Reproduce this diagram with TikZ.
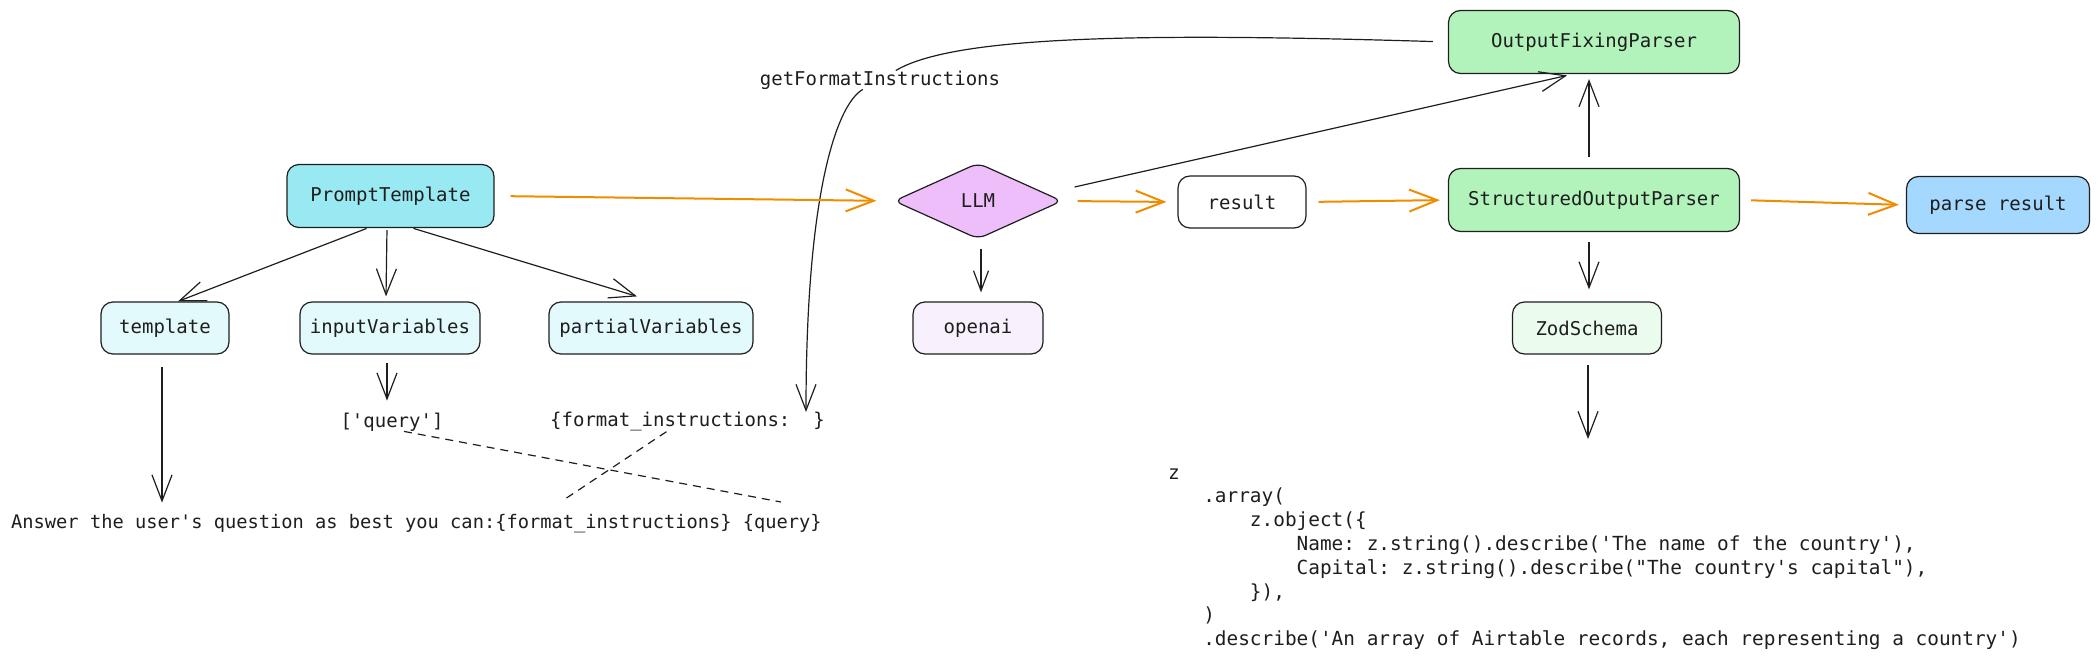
\documentclass[tikz,border=0pt]{standalone}
\usepackage{fontspec}
\setmonofont{DejaVu Sans Mono}
\usetikzlibrary{arrows.meta,shapes.geometric}

% Sangría en anchos de carácter (fuente monoespaciada)
\newcommand{\codeindent}[1]{\hspace*{#1\fontcharwd\font`\x}}

\begin{document}
\begin{tikzpicture}[
    x=1pt, y=-1pt,
    % Estilo para las cajas redondeadas
    caja/.style={
        draw=trazo, line width=1.2pt, rounded corners=12pt,
        inner sep=0pt, text=trazo,
        font=\ttfamily\fontsize{19}{23}\selectfont
    },
    % Estilo para el rombo del modelo
    rombo/.style={
        diamond, draw=trazo, line width=1.2pt, rounded corners=8pt,
        inner sep=0pt, text=trazo,
        font=\ttfamily\fontsize{19}{23}\selectfont
    },
    % Textos sueltos
    texto/.style={inner sep=0pt, text=trazo, font=\ttfamily\fontsize{19}{23}\selectfont},
    codigo/.style={inner sep=0pt, text=trazo, font=\ttfamily\fontsize{19.4}{23.8}\selectfont},
    % Flechas
    flecha/.style={draw=trazo, line width=1.2pt, line join=round,
        -{Straight Barb[length=26pt, width=20pt]}},
    flechacorta/.style={flecha, -{Straight Barb[length=20pt, width=15pt]}},
    naranja/.style={draw=flujo, line width=2pt, line join=round,
        -{Straight Barb[length=28pt, width=22pt]}},
    punteada/.style={draw=trazo, line width=1.2pt, dash pattern=on 8pt off 6pt}
]
    % Configuración de colores
    \definecolor{trazo}{HTML}{1E1E1E}
    \definecolor{flujo}{HTML}{F08C00}
    \definecolor{cianfuerte}{HTML}{99E9F2}
    \definecolor{cianclaro}{HTML}{E3FAFC}
    \definecolor{lila}{HTML}{EEBEFA}
    \definecolor{lilaclaro}{HTML}{F8F0FC}
    \definecolor{verde}{HTML}{B2F2BB}
    \definecolor{verdeclaro}{HTML}{EBFBEE}
    \definecolor{azul}{HTML}{A5D8FF}

    \useasboundingbox (0,0) rectangle (2100,660);

    % Plantilla y sus partes
    \node[caja, fill=cianfuerte, minimum width=207pt, minimum height=63pt] (prompt) at (390.5,196) {PromptTemplate};
    \node[caja, fill=cianclaro, minimum width=128pt, minimum height=52pt] (template) at (165,328) {template};
    \node[caja, fill=cianclaro, minimum width=180pt, minimum height=52pt] (inputs) at (390,328) {inputVariables};
    \node[caja, fill=cianclaro, minimum width=204pt, minimum height=52pt] (partials) at (651,328) {partialVariables};

    \node[texto] (query) at (392,422) {['query']};
    \node[texto, anchor=west] (fmt) at (550,422) {\{format\_instructions:\codeindent{2}\}};
    \node[texto, anchor=base west, font=\ttfamily\fontsize{18.7}{23}\selectfont] (answer) at (11,528)
        {Answer the user's question as best you can:\{format\_instructions\} \{query\}};

    % Modelo y parsers
    \node[rombo, fill=lila, minimum width=168pt, minimum height=76pt] (llm) at (978,201) {LLM};
    \node[caja, fill=lilaclaro, minimum width=130pt, minimum height=52pt] (openai) at (978,328) {openai};
    \node[caja, fill=white, minimum width=128pt, minimum height=52pt] (result) at (1242,202) {result};
    \node[caja, fill=verde, minimum width=291pt, minimum height=63pt] (ofp) at (1594,42) {OutputFixingParser};
    \node[caja, fill=verde, minimum width=291pt, minimum height=63pt] (sop) at (1594,200) {StructuredOutputParser};
    \node[caja, fill=azul, minimum width=183pt, minimum height=57pt] (parse) at (1998,205) {parse result};
    \node[caja, fill=verdeclaro, minimum width=149pt, minimum height=52pt] (zod) at (1587,328) {ZodSchema};

    % Esquema zod, una línea por nodo: {índice / sangría / texto}
    \foreach \k/\sang/\linea in {
        0/0/{z},
        1/3/{.array(},
        2/7/{z.object(\{},
        3/11/{Name: z.string().describe('The name of the country'),},
        4/11/{Capital: z.string().describe("The country's capital"),},
        5/7/{\}),},
        6/3/{)},
        7/3/{.describe('An array of Airtable records, each representing a country')}
    }{
        \node[codigo, anchor=base west] (code\k) at (1168,{479+\k*23.8}) {\codeindent{\sang}\linea};
    }

    % Puntos libres de llegada
    \coordinate (codetop) at (1588,439);
    \coordinate (fmtgap) at (806,412);
    \coordinate (ansquery) at (781,502);
    \coordinate (ansfmt) at (562,501);

    % Flechas negras
    \draw[flecha, shorten <=1pt] ([xshift=-23pt]prompt.south) -- ([xshift=13pt]template.north);
    \draw[flecha, shorten <=2pt] ([xshift=-3.5pt]prompt.south) -- ([xshift=-4pt,yshift=5pt]inputs.north);
    \draw[flecha, shorten <=1pt] ([xshift=22pt]prompt.south) -- ([xshift=-14pt,yshift=5pt]partials.north);
    \draw[flecha, shorten <=12pt, shorten >=11pt] ([xshift=-3pt]template.south) -- ([xshift=-3pt]template.south |- answer.north);
    \draw[flecha, shorten <=8pt, shorten >=12pt] ([xshift=-3pt]inputs.south) -- ([xshift=-3pt]inputs.south |- query.north);
    \draw[flechacorta, shorten <=9pt, shorten >=9pt] ([xshift=3pt]llm.south) -- ([xshift=3pt]openai.north);
    \draw[flecha, shorten <=11pt, shorten >=5pt] ([xshift=-5pt]sop.north) -- ([xshift=-5pt]ofp.south);
    \draw[flecha, shorten >=6pt] ([shift={(12pt,14pt)}]llm.east) -- ([xshift=-21pt]ofp.south);
    \draw[flecha, shorten <=10pt, shorten >=12pt] ([xshift=-5pt]sop.south) -- ([xshift=2pt]zod.north);
    \draw[flecha, shorten <=10pt] ([xshift=1pt]zod.south) -- (codetop);

    % Curva de getFormatInstructions, cortada por su etiqueta
    \node[texto] (getfmt) at (880,80) {getFormatInstructions};
    \draw[draw=trazo, line width=1.2pt, shorten <=15pt] (ofp.west) .. controls (1150,33) and (955,35) .. (getfmt);
    \draw[flecha] (getfmt) .. controls (840,102) and (806,180) .. (fmtgap);

    % Flujo principal en naranja
    \draw[naranja, shorten <=16pt, shorten >=17pt] (prompt.east) -- (llm.west);
    \draw[naranja, shorten <=15pt, shorten >=11pt] (llm.east) -- (result.west);
    \draw[naranja, shorten <=12pt, shorten >=8pt] (result.east) -- (sop.west);
    \draw[naranja, shorten <=11pt, shorten >=7pt] (sop.east) -- (parse.west);

    % Variables sustituidas en la plantilla
    \draw[punteada] ([xshift=12pt]query.south) -- (ansquery);
    \draw[punteada] ([xshift=-21pt]fmt.south) -- (ansfmt);

\end{tikzpicture}
\end{document}
